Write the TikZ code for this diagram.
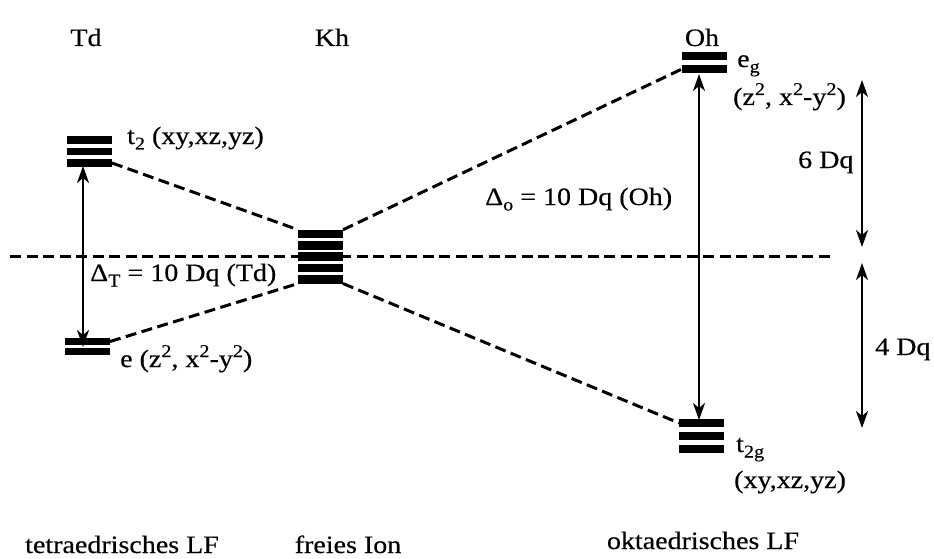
\documentclass[tikz,border=0pt]{standalone}
\usepackage{fontspec}
\setmainfont[FakeStretch=1.12,FakeBold=0.4]{Liberation Serif}
\usetikzlibrary{arrows.meta}
\newcommand{\mysup}[1]{\raisebox{0.40em}{\fontsize{18}{18}\selectfont #1}}
\newcommand{\mysub}[1]{\raisebox{-0.22em}{\fontsize{18}{18}\selectfont #1}}
\begin{document}
\begin{tikzpicture}[x=1pt,y=-1pt,
  bar/.style={rectangle, fill=black, draw=none, minimum width=45pt, minimum height=7.5pt, inner sep=0pt, outer sep=0pt},
  dline/.style={line width=3pt, dash pattern=on 11pt off 5.5pt},
  darrow/.style={line width=2.4pt, {Stealth[length=17pt,width=12pt,inset=5pt]}-{Stealth[length=17pt,width=12pt,inset=5pt]}},
  lbl/.style={inner sep=0pt, anchor=base west, font=\fontsize{25}{30}\selectfont},
  ttl/.style={inner sep=0pt, anchor=base, font=\fontsize{25}{30}\selectfont},
  ]
\useasboundingbox (0,0) rectangle (934,559);
% titles
\node[ttl] (tTd) at (86,46) {Td};
\node[ttl] (tKh) at (332,46) {Kh};
\node[ttl] (tOh) at (702,46) {Oh};
\node[ttl] (bTd) at (122,553) {tetraedrisches LF};
\node[ttl] (bKh) at (348,553) {freies Ion};
\node[ttl] (bOh) at (703,549) {oktaedrisches LF};
% Td levels
\node[bar] (t2a) at (89.5,140) {};
\node[bar] (t2b) at (89.5,151.5) {};
\node[bar] (t2c) at (89.5,163) {};
\node[bar] (ea) at (87.5,341.5) {};
\node[bar] (eb) at (87.5,351.5) {};
% Kh levels
\node[bar, minimum height=8.5pt] (kh1) at (320.5,234) {};
\node[bar, minimum height=8.5pt] (kh2) at (320.5,245.3) {};
\node[bar, minimum height=8.5pt] (kh3) at (320.5,256.7) {};
\node[bar, minimum height=8.5pt] (kh4) at (320.5,268) {};
\node[bar, minimum height=8.5pt] (kh5) at (320.5,279.3) {};
% Oh levels
\node[bar, minimum height=8pt] (eg1) at (704.5,56) {};
\node[bar, minimum height=8pt] (eg2) at (704.5,69) {};
\node[bar, minimum height=8.5pt] (tg1) at (701.5,423) {};
\node[bar, minimum height=8.5pt] (tg2) at (701.5,436) {};
\node[bar, minimum height=8.5pt] (tg3) at (701.5,449) {};
% dashed connectors
\coordinate (hl) at (10,256.7);
\coordinate (hr) at (830,256.7);
\draw[dline] (hl) -- (hr);
\draw[dline] (t2c.east) -- (kh1.north west);
\draw[dline] (ea.east) -- (kh5.south west);
\draw[dline] (kh1.north east) -- (eg2.west);
\draw[dline] (kh5.south east) -- (tg1.west);
% arrows
\coordinate (tdA) at (83,166);
\coordinate (tdB) at (83,347);
\draw[darrow] (tdA) -- (tdB);
\coordinate (ohA) at (699,74);
\coordinate (ohB) at (699,420);
\draw[darrow] (ohA) -- (ohB);
\coordinate (s6A) at (862,80);
\coordinate (s6B) at (862,247);
\draw[darrow] (s6A) -- (s6B);
\coordinate (s4A) at (862,263);
\coordinate (s4B) at (862,428);
\draw[darrow] (s4A) -- (s4B);
% labels
\node[lbl] (lt2) at (127,144) {t\mysub{2} (xy,xz,yz)};
\node[lbl] (le) at (120,367) {e (z\mysup{2}, x\mysup{2}-y\mysup{2})};
\node[lbl] (ldt) at (90,281) {Δ\mysub{T} = 10 Dq (Td)};
\node[lbl] (ldo) at (485,205) {Δ\mysub{o} = 10 Dq (Oh)};
\node[lbl] (leg) at (737,67) {e\mysub{g}};
\node[lbl] (legx) at (733,105) {(z\mysup{2}, x\mysup{2}-y\mysup{2})};
\node[lbl] (l6) at (798,168) {6 Dq};
\node[lbl] (l4) at (875,355) {4 Dq};
\node[lbl] (ltg) at (736,452) {t\mysub{2g}};
\node[lbl] (ltgx) at (734,488) {(xy,xz,yz)};
\end{tikzpicture}
\end{document}
